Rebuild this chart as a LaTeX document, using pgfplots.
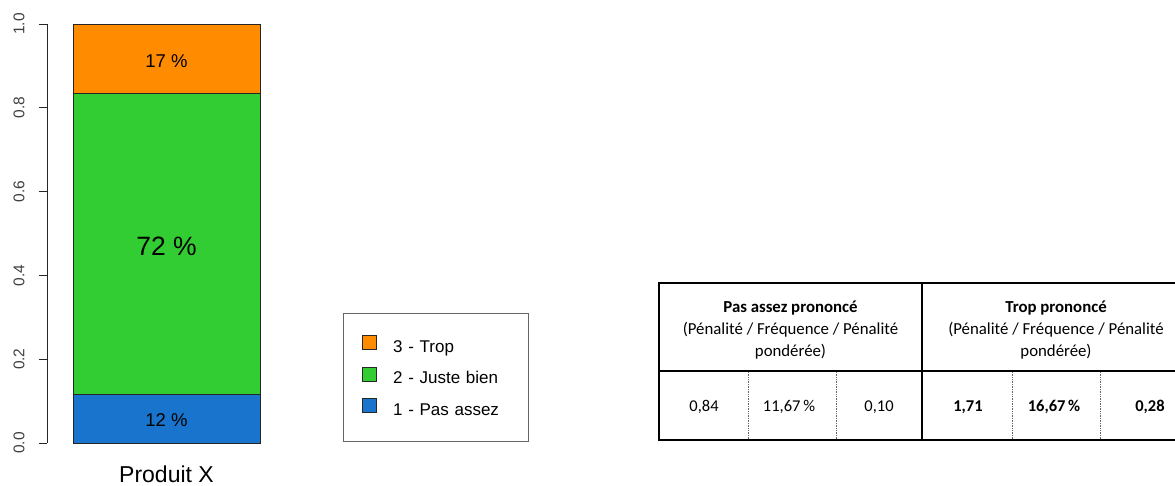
\documentclass[border=0pt]{standalone}
\usepackage{fontspec}
\setmainfont{Liberation Sans}
\newfontfamily\calibri{Carlito}
\usepackage{pgfplots}
\pgfplotsset{compat=1.18}
\definecolor{cTrop}{HTML}{FF8C00}
\definecolor{cJuste}{HTML}{32CD32}
\definecolor{cPas}{HTML}{1874CD}
\begin{document}
\begin{tikzpicture}
\path[use as bounding box] (0,0) rectangle (1175pt,485pt);
\begin{axis}[
  at={(47pt,42pt)}, anchor=south west,
  x=1pt, y=419pt,
  xmin=47, xmax=290, ymin=0, ymax=1,
  axis lines*=left,
  x axis line style={draw=none},
  y axis line style={line width=0.8pt, black!85},
  ybar stacked, bar width=187,
  reverse stacked plots=false,
  ytick={0,0.2,0.4,0.6,0.8,1},
  yticklabels={0.0,0.2,0.4,0.6,0.8,1.0},
  ytick style={line width=0.8pt, black!85},
  tick align=outside, major tick length=8pt,
  yticklabel style={xshift=-11pt, rotate=90, anchor=south, font=\fontsize{15.5}{18}\selectfont, text=black!75},
  xtick={166.5}, xticklabels={Produit X},
  xtick style={draw=none},
  xticklabel style={font=\fontsize{23}{27}\selectfont, yshift=-11pt},
  clip=false,
  reverse legend,
  legend cell align=left,
  legend image code/.code={\draw[#1] (0pt,-1.5pt) rectangle (14pt,12.5pt);},
  legend style={at={(1.2181,0.3103)}, anchor=north west, draw=black!60, line width=0.8pt,
    inner xsep=19pt, inner ysep=22pt, row sep=10.5pt,
    font=\fontsize{17}{20}\selectfont,
    nodes={inner sep=0pt, text height=12pt, text depth=4pt, text width=116pt, align=left},
    /tikz/every odd column/.append style={column sep=16pt}},
]
\addplot[fill=cPas, draw=black!85, line width=0.8pt] coordinates {(166.5,0.1167)};
\addlegendentry{1 - Pas assez}
\addplot[fill=cJuste, draw=black!85, line width=0.8pt] coordinates {(166.5,0.7166)};
\addlegendentry{2 - Juste bien}
\addplot[fill=cTrop, draw=black!85, line width=0.8pt] coordinates {(166.5,0.1667)};
\addlegendentry{3 - Trop}
\node[font=\fontsize{18.5}{21}\selectfont, yshift=-2pt] at (axis cs:166.5,0.05835) {12 \%};
\node[font=\fontsize{26.5}{30}\selectfont, yshift=-2pt] at (axis cs:166.5,0.475) {72 \%};
\node[font=\fontsize{18.5}{21}\selectfont, yshift=-2pt] at (axis cs:166.5,0.91665) {17 \%};
\end{axis}
\begin{scope}[x=1pt, y=-1pt, yshift=485pt]
\draw[line width=2pt] (659,283) rectangle (1190,440);
\draw[line width=2pt] (659,371) -- (1190,371);
\draw[line width=2pt] (922,283) -- (922,440);
\foreach \xx in {748,836,1012,1100}
  \draw[densely dotted, black!60, line width=0.7pt] (\xx,372) -- (\xx,439);
\node[font=\calibri\fontsize{16.8}{22}\selectfont, align=center] at (790.5,330)
  {\textbf{Pas assez prononcé}\\(Pénalité / Fréquence / Pénalité\\pondérée)};
\node[font=\calibri\fontsize{16.8}{22}\selectfont, align=center] at (1056,330)
  {\textbf{Trop prononcé}\\(Pénalité / Fréquence / Pénalité\\pondérée)};
\node[font=\calibri\fontsize{16.5}{20}\selectfont] at (704,407) {0,84};
\node[font=\calibri\fontsize{16.5}{20}\selectfont] at (789,407) {11,67\,\%};
\node[font=\calibri\fontsize{16.5}{20}\selectfont] at (879,407) {0,10};
\node[font=\calibri\bfseries\fontsize{16.5}{20}\selectfont] at (968,407) {1,71};
\node[font=\calibri\bfseries\fontsize{16.5}{20}\selectfont] at (1054,407) {16,67\,\%};
\node[font=\calibri\bfseries\fontsize{16.5}{20}\selectfont] at (1150,407) {0,28};
\end{scope}
\end{tikzpicture}
\end{document}
